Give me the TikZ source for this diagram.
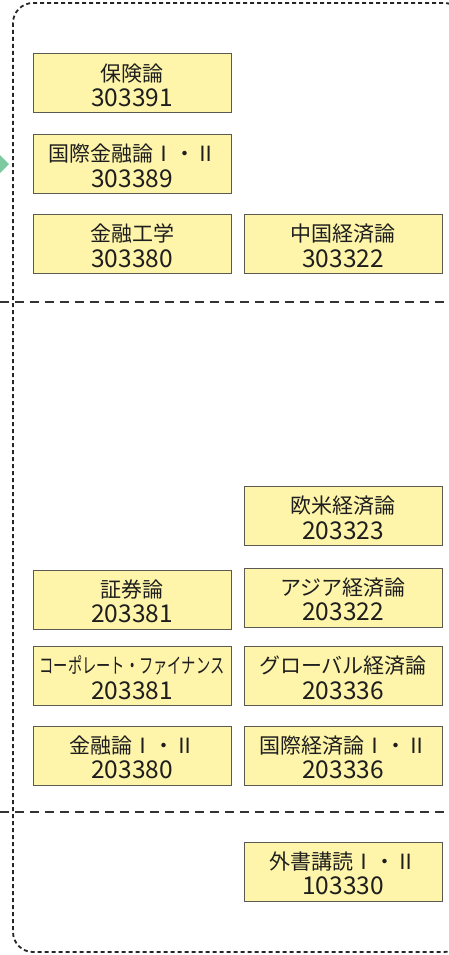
\documentclass[tikz,border=0pt]{standalone}
\usepackage{fontspec}
\newfontfamily\jp{Noto Sans CJK JP}
\definecolor{boxfill}{HTML}{FEF5AA}
\definecolor{boxline}{HTML}{5A5A52}
\definecolor{txt}{HTML}{1E1E1E}
\definecolor{mint}{HTML}{7DC9A0}
\newcommand{\crs}[2]{\fontsize{21}{25}\selectfont\raisebox{-10.5pt}[0pt][0pt]{\begin{tabular}{@{}c@{}}\fontsize{21}{25}\selectfont #1\\\fontsize{24.5}{25}\selectfont #2\end{tabular}}}
\tikzset{
  course/.style={draw=boxline, line width=1pt, fill=boxfill, minimum width=198pt, minimum height=59pt,
    inner sep=0pt, align=center, text=txt, font=\jp},
  framebox/.style={draw=black!85, line width=1.8pt, rounded corners=20pt, dash pattern=on 4pt off 3pt},
  divider/.style={draw=black!80, line width=1.4pt, dash pattern=on 9pt off 6pt}
}
\begin{document}
\begin{tikzpicture}[x=1pt,y=-1pt]
\useasboundingbox (0,0) rectangle (449,955);
% outer dotted frame
\draw[framebox] (13,3) rectangle (464,952);
% dividers
\draw[divider] (0,302) -- (449,302);
\draw[divider] (0,812) -- (449,812);
% incoming arrow head
\coordinate (tip) at (9,164);
\fill[mint] (0,155) -- (tip) -- (0,173) -- cycle;
% courses
\node[course] (hoken) at (132,83.5) {\crs{保険論}{303391}};
\node[course] (kokusaikinyu) at (132,164) {\crs{国際金融論Ⅰ・Ⅱ}{303389}};
\node[course] (kinyukogaku) at (132,244) {\crs{金融工学}{303380}};
\node[course] (chugoku) at (343,244) {\crs{中国経済論}{303322}};
\node[course] (obei) at (343,516) {\crs{欧米経済論}{203323}};
\node[course] (shoken) at (132,599.5) {\crs{証券論}{203381}};
\node[course] (asia) at (343,597.5) {\crs{アジア経済論}{203322}};
\node[course] (corp) at (132,676) {\crs{\scalebox{0.68}[1]{コーポレート・ファイナンス}}{203381}};
\node[course] (global) at (343,676) {\crs{グローバル経済論}{203336}};
\node[course] (kinyu) at (132,755.5) {\crs{金融論Ⅰ・Ⅱ}{203380}};
\node[course] (kokusaikeizai) at (343,755.5) {\crs{国際経済論Ⅰ・Ⅱ}{203336}};
\node[course] (gaisho) at (343,871.5) {\crs{外書講読Ⅰ・Ⅱ}{103330}};
\end{tikzpicture}
\end{document}
